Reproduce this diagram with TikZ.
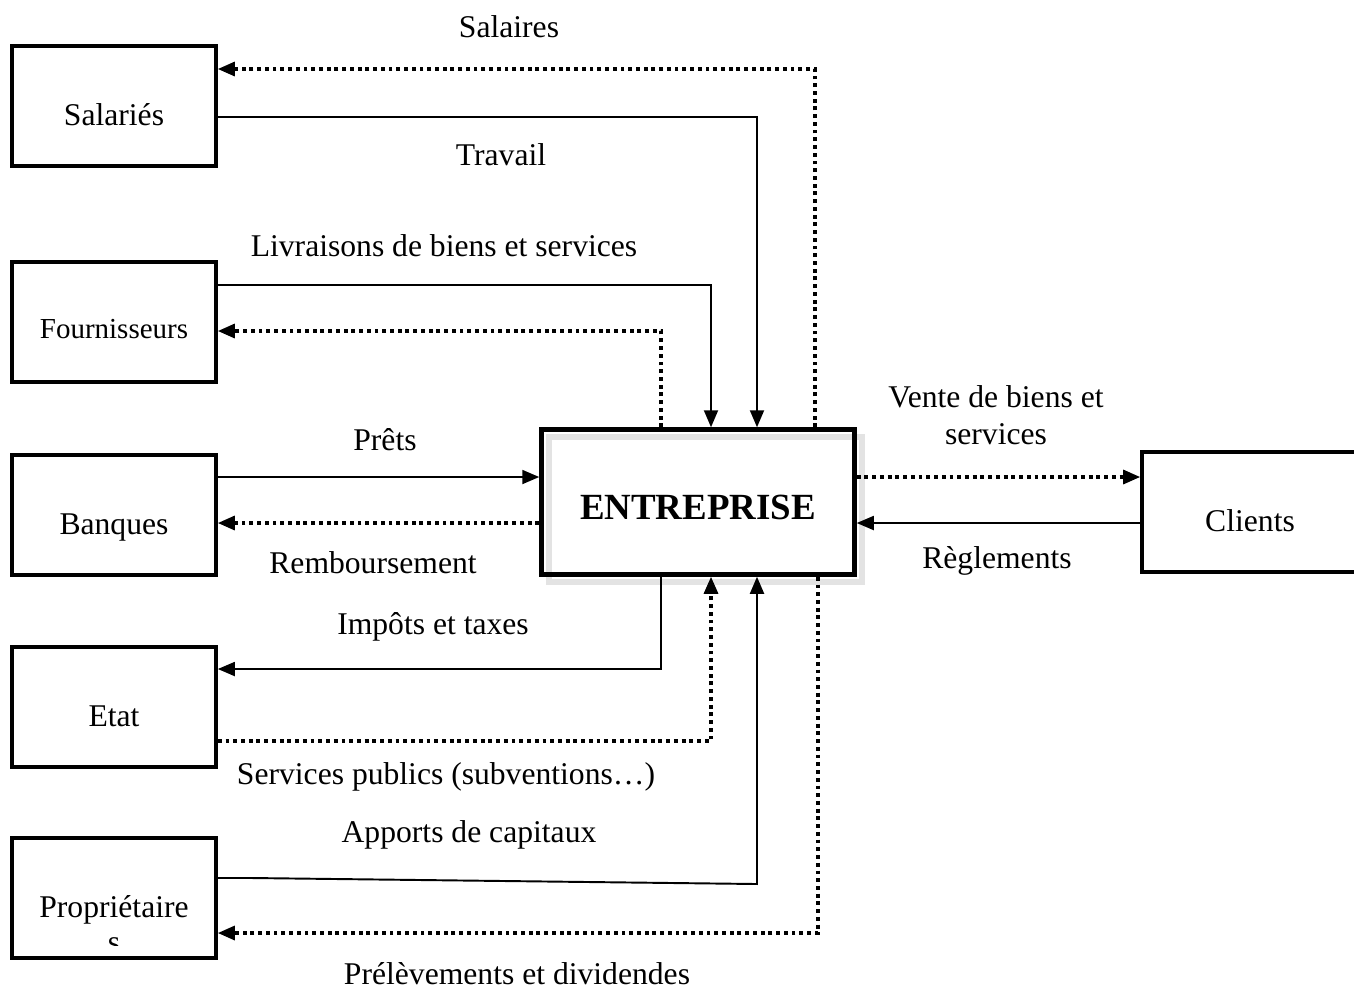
\documentclass[tikz,border=0pt]{standalone}
\usepackage{fontspec}
\setmainfont{Liberation Serif}
\usetikzlibrary{arrows.meta,calc}

\begin{document}
\begin{tikzpicture}[x=0.02cm, y=-0.02cm,
		boite/.style={rectangle, draw, line width=2.1pt, minimum width=4.08cm, minimum height=2.4cm,
			text height=22pt, text depth=0pt, font=\fontsize{18}{21}\selectfont},
		flux/.style={line width=1.1pt, -{Triangle[length=0.34cm, width=0.28cm]}},
		fluxpt/.style={flux, line width=1.8pt, dash pattern=on 2.2pt off 2.2pt},
		lbl/.style={font=\fontsize{18}{21}\selectfont, align=center}]
		\useasboundingbox (0,0) rectangle (1354,992);

		% les partenaires
		\node[boite] (sal) at (114, 106) {Salariés};
		\node[boite, font=\fontsize{16.5}{19}\selectfont, text height=19pt] (fou) at (114, 322) {Fournisseurs};
		\node[boite] (ban) at (114, 515) {Banques};
		\node[boite] (eta) at (114, 707) {Etat};
		\node[boite] (pro) at (114, 898) {};
		\node[boite, minimum width=4.32cm] (cli) at (1250, 512) {Clients};
		\begin{scope}
			\clip (pro.north west) rectangle (216, 945);
			\node[lbl, anchor=center] (protxt) at (114, 924) {Propriétaire\\[-1pt]s};
		\end{scope}

		% l'entreprise avec son ombre
		\draw[gray!22, line width=3pt] (549, 437) rectangle (862, 582);
		\node[draw, line width=2.6pt, minimum width=6.26cm, minimum height=2.9cm,
			text height=20pt, text depth=0pt,
			font=\fontsize{21}{25}\selectfont\bfseries] (ent) at (698, 502) {ENTREPRISE};

		% flux avec les salaries
		\draw[fluxpt] ($(ent.north)+(117,0)$) |- ($(sal.east)+(0,-37)$);
		\draw[flux] ($(sal.east)+(0,11)$) -| ($(ent.north)+(59,0)$);

		% flux avec les fournisseurs
		\draw[flux] ($(fou.east)+(0,-37)$) -| ($(ent.north)+(13,0)$);
		\draw[fluxpt] ($(ent.north)+(-37,0)$) |- ($(fou.east)+(0,9)$);

		% flux avec les banques
		\draw[flux] ($(ban.east)+(0,-38)$) -- ($(ent.west)+(0,-25)$);
		\draw[fluxpt] ($(ent.west)+(0,21)$) -- ($(ban.east)+(0,8)$);

		% flux avec l'etat
		\draw[flux] ($(ent.south)+(-37,0)$) |- ($(eta.east)+(0,-38)$);
		\draw[fluxpt] ($(eta.east)+(0,34)$) -| ($(ent.south)+(13,0)$);

		% flux avec les proprietaires
		\draw[flux] ($(pro.east)+(0,-20)$) -- (252, 878) -- (757, 884) -- ($(ent.south)+(59,0)$);
		\draw[fluxpt] ($(ent.south)+(120,0)$) |- ($(pro.east)+(0,35)$);

		% flux avec les clients
		\draw[fluxpt] ($(ent.east)+(0,-25)$) -- ($(cli.west)+(0,-35)$);
		\draw[flux] ($(cli.west)+(0,11)$) -- ($(ent.east)+(0,21)$);

		% les libelles
		\node[lbl] (l1) at (509, 27) {Salaires};
		\node[lbl] (l2) at (501, 155) {Travail};
		\node[lbl] (l3) at (444, 246) {Livraisons de biens et services};
		\node[lbl] (l4) at (385, 440) {Prêts};
		\node[lbl] (l5) at (373, 563) {Remboursement};
		\node[lbl] (l6) at (433, 627) {Impôts et taxes};
		\node[lbl] (l7) at (446, 777) {Services publics (subventions…)};
		\node[lbl] (l8) at (469, 835) {Apports de capitaux};
		\node[lbl] (l9) at (517, 974) {Prélèvements et dividendes};
		\node[lbl] (l10) at (996, 415) {Vente de biens et\\services};
		\node[lbl] (l11) at (997, 561) {Règlements};
\end{tikzpicture}
\end{document}
